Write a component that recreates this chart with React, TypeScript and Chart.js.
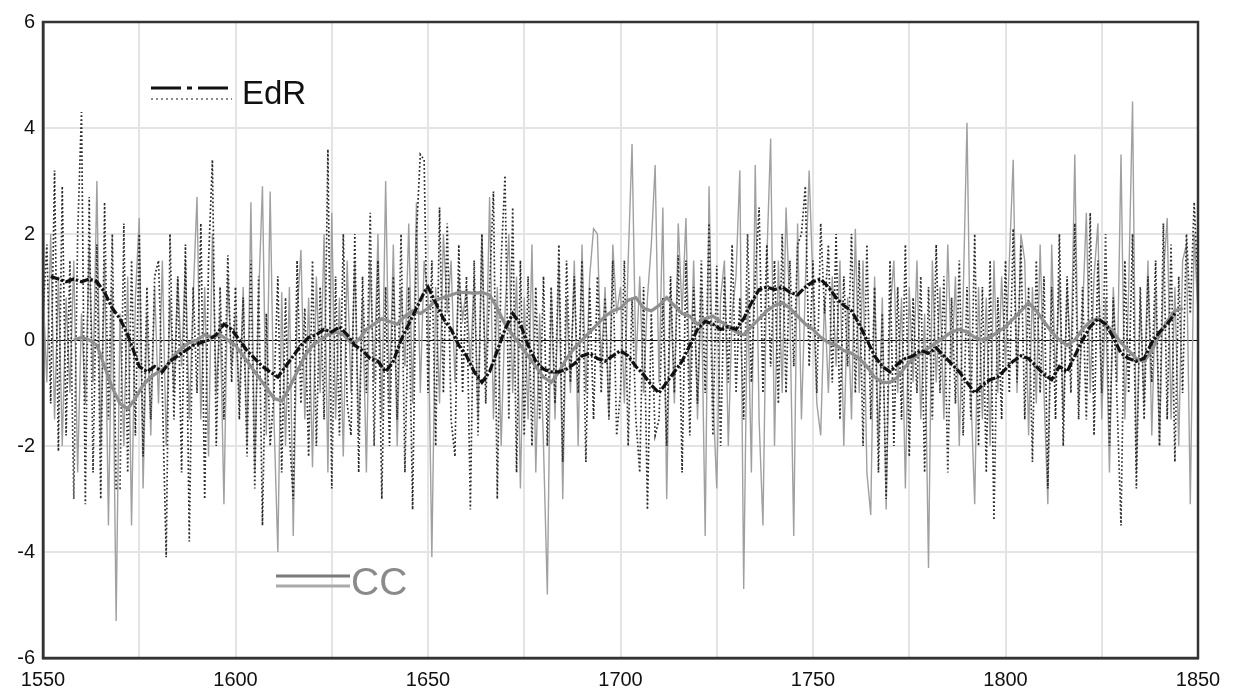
import React, { useEffect, useRef } from "react";
import { Chart, registerables } from "chart.js";

Chart.register(...registerables);

const startYear = 1550;
const endYear = 1850;

// EdR annual values 1550..1850
const edrAnnual: number[] = [
  0.5, 1.8, -1.2, 3.2, -2.1, 2.9, -1.8, 1.5, -3.0, 2.0,
  4.3, -3.1, 2.7, -2.5, 1.8, -3.0, 2.6, -1.5, 2.0, -2.8,
  -2.8, 2.2, -2.5, 1.5, -1.8, 2.0, -2.2, 1.0, -1.5, 1.2,
  1.5, -1.0, -4.1, 2.0, -1.5, 1.2, -2.5, 1.8, -3.8, 1.0,
  -1.0, 2.2, -3.0, 1.5, 3.4, -2.0, 1.0, -1.5, 1.6, -0.8,
  1.0, -1.5, 0.8, -2.2, 1.5, -2.8, 1.2, -3.5, 0.5, -2.0,
  -1.0, 1.2, -2.5, 0.8, -1.8, -3.0, 1.5, -1.2, 0.6, -2.2,
  1.5, -2.0, 1.0, -1.5, 3.6, -2.8, 1.2, -1.8, 2.0, -1.2,
  -1.8, 2.0, -2.5, 1.2, -1.0, 2.4, -2.0, 1.5, -3.0, 1.0,
  -2.0, 1.2, -1.5, 2.0, -2.5, 1.0, -3.2, 2.0, 3.5, 3.4,
  -1.0, 1.5, -2.0, 2.5, -1.0, 2.2, -1.5, -2.2, 1.8, -1.0,
  1.2, -3.2, 1.5, -1.8, 2.0, -1.2, 1.0, 2.8, -3.0, 1.5,
  3.1, -1.5, 2.5, -2.5, 1.5, -1.8, 1.2, -2.0, 1.0, -1.5,
  1.2, -2.0, 1.0, -1.2, 1.8, -2.3, 1.5, -0.8, 1.2, -1.0,
  1.5, -2.3, 1.0, -1.5, 1.2, -1.0, 0.8, -1.5, 1.5, -1.8,
  -1.0, 1.5, -2.0, 0.8, -1.5, -2.5, 1.0, -3.2, 0.5, -1.8,
  -1.5, 0.8, -2.0, 1.2, -1.0, 1.6, -2.5, 1.5, -1.8, 1.0,
  -1.2, 1.5, -1.0, 2.2, -1.8, 1.4, -2.0, 1.2, -0.8, 1.8,
  -1.0, 0.8, -1.5, 2.0, -0.8, 1.2, 2.5, -1.0, 1.8, -0.5,
  1.5, -1.2, 2.0, -1.0, 1.5, -0.5, 1.8, 2.0, 2.9, -0.5,
  1.5, -1.0, 2.2, 0.5, 1.8, -0.8, 2.0, -1.5, 1.2, -0.5,
  2.0, -1.0, 1.5, -2.0, 1.8, -1.5, 1.0, -2.5, 0.5, -3.0,
  1.5, -2.0, 1.0, -1.5, 1.8, -2.2, 0.8, -1.0, 1.2, -2.5,
  1.0, -1.5, 1.8, -1.0, 1.2, -2.5, 0.8, -1.2, 1.5, -1.8,
  1.0, -1.5, 2.0, -2.0, 1.0, -2.5, 1.5, -3.4, 0.8, -1.5,
  1.5, -1.0, 2.1, -0.8, 1.8, -1.5, 1.0, -2.3, 1.5, -1.0,
  1.2, -2.8, 1.0, -1.5, 2.0, -2.0, 1.2, -1.0, 2.2, -1.5,
  1.0, -1.5, 2.4, -1.8, 1.5, -1.0, 2.0, -2.0, 0.8, -1.2,
  -3.5, 1.5, -1.0, 2.0, -2.8, 1.0, -1.5, 1.2, -0.8, 1.5,
  -2.0, 2.2, -1.5, 1.8, -2.3, 1.2, -1.0, 2.0, 0.5, 2.6,
  1.0,
];

// CC annual values 1550..1850
const ccAnnual: number[] = [
  1.0, -0.8, 2.0, -1.5, 1.2, -2.0, 0.8, -1.0, 1.5, -2.5,
  0.5, -1.2, 1.8, -0.8, 3.0, -2.0, 1.5, -3.5, 1.0, -5.3,
  0.5, -2.0, 1.2, -3.5, 0.8, 2.3, -2.8, 0.5, -1.8, 1.0,
  -1.2, 1.5, -2.0, 0.8, -1.0, 1.2, -0.5, 1.5, -1.5, 0.8,
  2.7, -1.5, 1.0, -2.2, 2.0, -1.0, 0.5, -3.1, 1.2, -0.5,
  0.5, -1.2, 1.0, -2.0, 2.6, -2.5, 0.8, 2.9, -1.8, 2.8,
  -1.5, -4.0, 0.9, -2.0, 1.0, -3.7, 0.5, 1.7, -1.5, 0.8,
  -2.4, 1.2, -1.0, 2.0, -2.5, 2.4, -1.5, 0.8, -2.2, 1.5,
  -1.0, 1.5, -1.8, 0.8, -2.5, 1.5, -0.8, 2.0, -1.5, 3.0,
  -1.2, 1.8, -2.0, 1.0, -0.5, 2.2, -1.2, 2.6, -1.0, 1.5,
  0.8, -4.1, 1.0, -1.2, 2.0, 0.5, 1.5, -0.8, 1.2, 0.4,
  1.0, -0.5, 1.2, -1.5, 2.0, -0.8, 2.7, -1.5, 1.0, -2.0,
  0.5, 2.0, -1.0, 1.2, -2.8, 0.8, -1.5, 1.8, -2.5, 0.5,
  -2.0, -4.8, 1.0, -1.5, 1.5, -3.0, 0.8, -1.0, 1.5, -2.0,
  1.8, -1.0, 1.2, 2.1, 2.0, -0.5, 1.0, -1.5, 1.8, 0.5,
  1.0, -1.2, 1.5, 3.7, -0.5, 1.2, -1.0, 0.8, 1.8, 3.3,
  -0.8, 2.5, -3.0, 1.0, -1.2, 2.2, 0.5, 2.3, -1.0, 1.5,
  -1.5, 1.0, -3.7, 2.9, -1.0, -2.8, 0.8, 1.5, -2.0, 0.5,
  1.2, 3.2, -4.7, 1.0, -2.5, 3.3, -1.5, -3.5, 1.5, 3.8,
  -2.0, 1.5, -1.0, 2.5, 0.5, -3.7, 2.2, -1.5, 1.0, 3.2,
  1.0, -1.2, -1.8, 0.8, -1.0, 1.2, -0.5, 1.5, -2.0, 0.8,
  -1.5, 2.1, -1.0, 1.5, -2.5, -3.3, 1.2, -2.0, 0.8, -3.2,
  0.5, 1.5, -1.0, 0.8, -2.8, 1.0, -0.8, 1.5, -1.5, 0.5,
  -4.3, 1.5, -0.8, 1.0, -1.5, 1.8, -0.5, 1.2, -2.0, 0.8,
  4.1, -1.0, -3.1, 1.0, -1.5, 0.8, -2.0, 1.5, -1.0, 1.2,
  -0.5, 1.5, 3.4, -1.0, 2.0, 1.5, -1.8, 1.0, -1.2, 1.8,
  -1.0, -3.1, 1.8, -0.8, 1.2, -1.5, 1.0, -0.5, 3.5, -1.2,
  0.5, 2.4, -1.0, 1.2, 2.2, -1.5, 0.8, -2.5, 1.0, -0.8,
  3.5, -1.5, 1.0, 4.5, -2.5, 0.8, -1.2, 1.5, -1.8, 1.0,
  -2.0, 1.2, 2.3, -1.5, 1.0, -2.0, 1.5, 1.8, -3.1, 2.0,
  0.5,
];

// Smoothed EdR
const edrSmoothYears: number[] = [
  1552, 1554, 1556, 1558, 1560, 1562, 1564, 1566, 1568, 1570, 1572, 1574, 1575, 1577, 1579,
  1581, 1583, 1585, 1587, 1589, 1591, 1593, 1595, 1597, 1599, 1601, 1603, 1605, 1607, 1609,
  1611, 1613, 1615, 1617, 1619, 1621, 1623, 1625, 1627, 1629, 1631, 1633, 1635, 1637, 1639,
  1641, 1643, 1645, 1647, 1649, 1650, 1652, 1654, 1656, 1658, 1660, 1662, 1664, 1666, 1668,
  1670, 1672, 1674, 1676, 1678, 1680, 1682, 1684, 1686, 1688, 1690, 1692, 1694, 1696, 1698,
  1700, 1702, 1704, 1706, 1708, 1710, 1712, 1714, 1716, 1718, 1720, 1722, 1724, 1726, 1728,
  1730, 1732, 1734, 1736, 1738, 1740, 1742, 1744, 1746, 1748, 1750, 1752, 1754, 1756, 1758,
  1760, 1762, 1764, 1766, 1768, 1770, 1772, 1774, 1776, 1778, 1780, 1782, 1784, 1786, 1788,
  1790, 1792, 1794, 1796, 1798, 1800, 1802, 1804, 1806, 1808, 1810, 1812, 1814, 1816, 1818,
  1820, 1822, 1824, 1826, 1828, 1830, 1832, 1834, 1836, 1838, 1840, 1842, 1844,
];
const edrSmoothValues: number[] = [
  1.2, 1.15, 1.1, 1.15, 1.1, 1.15, 1.1, 0.9, 0.6, 0.4, 0.1, -0.3, -0.5, -0.6, -0.5,
  -0.6, -0.4, -0.3, -0.2, -0.1, -0.05, 0.0, 0.1, 0.3, 0.2, 0.0, -0.2, -0.35, -0.5, -0.6,
  -0.7, -0.5, -0.3, -0.1, 0.05, 0.1, 0.2, 0.15, 0.25, 0.1, -0.1, -0.2, -0.35, -0.4, -0.6,
  -0.4, 0.0, 0.3, 0.6, 0.9, 1.0, 0.7, 0.4, 0.2, -0.1, -0.3, -0.6, -0.8, -0.6, -0.2,
  0.2, 0.5, 0.3, -0.1, -0.4, -0.55, -0.6, -0.6, -0.55, -0.45, -0.3, -0.25, -0.35, -0.4, -0.3,
  -0.2, -0.3, -0.5, -0.65, -0.85, -1.0, -0.8, -0.6, -0.4, -0.1, 0.2, 0.35, 0.3, 0.2, 0.25,
  0.2, 0.4, 0.7, 0.95, 1.0, 0.95, 1.0, 0.9, 0.85, 1.0, 1.1, 1.15, 1.0, 0.8, 0.65,
  0.55, 0.3, 0.0, -0.3, -0.5, -0.6, -0.45, -0.35, -0.3, -0.2, -0.25, -0.15, -0.3, -0.45, -0.6,
  -0.8, -1.0, -0.85, -0.75, -0.7, -0.55, -0.4, -0.3, -0.35, -0.5, -0.65, -0.75, -0.5, -0.6, -0.3,
  0.0, 0.25, 0.4, 0.3, 0.05, -0.25, -0.35, -0.4, -0.35, -0.05, 0.15, 0.3, 0.5,
];

// Smoothed CC
const ccSmoothYears: number[] = [
  1558, 1560, 1562, 1564, 1566, 1568, 1570, 1572, 1574, 1576, 1578, 1580, 1582, 1584, 1586,
  1588, 1590, 1592, 1594, 1596, 1598, 1600, 1602, 1604, 1606, 1608, 1610, 1612, 1614, 1616,
  1618, 1620, 1622, 1624, 1626, 1628, 1630, 1632, 1634, 1636, 1638, 1640, 1642, 1644, 1646,
  1648, 1650, 1652, 1654, 1656, 1658, 1660, 1662, 1664, 1666, 1668, 1670, 1672, 1674, 1676,
  1678, 1680, 1682, 1684, 1686, 1688, 1690, 1692, 1694, 1696, 1698, 1700, 1702, 1704, 1706,
  1708, 1710, 1712, 1714, 1716, 1718, 1720, 1722, 1724, 1726, 1728, 1730, 1732, 1734, 1736,
  1738, 1740, 1742, 1744, 1746, 1748, 1750, 1752, 1754, 1756, 1758, 1760, 1762, 1764, 1766,
  1768, 1770, 1772, 1774, 1776, 1778, 1780, 1782, 1784, 1786, 1788, 1790, 1792, 1794, 1796,
  1798, 1800, 1802, 1804, 1806, 1808, 1810, 1812, 1814, 1816, 1818, 1820, 1822, 1824, 1826,
  1828, 1830, 1832, 1834, 1836, 1838, 1840, 1842, 1844, 1846,
];
const ccSmoothValues: number[] = [
  0.0, 0.05, 0.0, -0.1, -0.5, -0.9, -1.2, -1.3, -1.1, -0.85, -0.7, -0.6, -0.5, -0.3, -0.15,
  -0.05, 0.0, 0.1, 0.05, 0.1, 0.0, -0.1, -0.3, -0.5, -0.7, -0.9, -1.1, -1.15, -0.9, -0.6,
  -0.3, -0.1, 0.0, 0.1, 0.15, 0.1, -0.05, 0.0, 0.2, 0.3, 0.4, 0.35, 0.3, 0.45, 0.55,
  0.5, 0.6, 0.75, 0.8, 0.85, 0.9, 0.9, 0.88, 0.9, 0.85, 0.6, 0.3, 0.1, -0.1, -0.3,
  -0.5, -0.7, -0.8, -0.6, -0.35, -0.15, 0.0, 0.15, 0.3, 0.45, 0.55, 0.6, 0.75, 0.8, 0.6,
  0.55, 0.65, 0.8, 0.65, 0.5, 0.45, 0.3, 0.4, 0.45, 0.35, 0.25, 0.15, 0.1, 0.25, 0.4,
  0.55, 0.65, 0.7, 0.6, 0.45, 0.3, 0.2, 0.05, -0.05, -0.1, -0.2, -0.25, -0.35, -0.5, -0.7,
  -0.8, -0.8, -0.7, -0.5, -0.35, -0.25, -0.15, -0.05, 0.05, 0.15, 0.2, 0.15, 0.05, 0.0, 0.05,
  0.15, 0.25, 0.4, 0.55, 0.7, 0.55, 0.35, 0.15, 0.0, -0.1, 0.0, 0.2, 0.35, 0.4, 0.3,
  0.15, -0.05, -0.2, -0.35, -0.4, -0.2, 0.1, 0.35, 0.55, 0.6,
];

const yTicks: number[] = [-6, -4, -2, 0, 2, 4, 6];
const xLabelTicks: number[] = [1550, 1600, 1650, 1700, 1750, 1800, 1850];

const FONT = "'Liberation Sans', Arial, sans-serif";

const toPoints = (xs: number[], ys: number[]) => xs.map((x, i) => ({ x, y: ys[i] }));
const annualPoints = (vals: number[]) => vals.map((v, i) => ({ x: startYear + i, y: v }));

const legendPlugin = {
  id: "customLegend",
  afterDraw(chart: any) {
    const ctx = chart.ctx as CanvasRenderingContext2D;
    ctx.save();
    // EdR smoothed sample (dash-dot black)
    ctx.strokeStyle = "#111";
    ctx.lineWidth = 3;
    ctx.setLineDash([30, 6, 5, 6]);
    ctx.beginPath();
    ctx.moveTo(151, 88);
    ctx.lineTo(232, 88);
    ctx.stroke();
    // EdR annual sample (dotted)
    ctx.strokeStyle = "#666";
    ctx.lineWidth = 1.6;
    ctx.setLineDash([2, 3]);
    ctx.beginPath();
    ctx.moveTo(151, 99);
    ctx.lineTo(232, 99);
    ctx.stroke();
    ctx.setLineDash([]);
    ctx.fillStyle = "#111";
    ctx.font = `33px ${FONT}`;
    ctx.textAlign = "left";
    ctx.textBaseline = "middle";
    ctx.fillText("EdR", 242, 95);
    // CC samples
    ctx.strokeStyle = "#7a7a7a";
    ctx.lineWidth = 3;
    ctx.beginPath();
    ctx.moveTo(276, 576);
    ctx.lineTo(350, 576);
    ctx.stroke();
    ctx.strokeStyle = "#aaa";
    ctx.lineWidth = 3;
    ctx.beginPath();
    ctx.moveTo(276, 586);
    ctx.lineTo(350, 586);
    ctx.stroke();
    ctx.fillStyle = "#8a8a8a";
    ctx.font = `39px ${FONT}`;
    ctx.fillText("CC", 351, 584);
    ctx.restore();
  },
};

export default function App() {
  const canvasRef = useRef<HTMLCanvasElement | null>(null);

  useEffect(() => {
    document.body.style.margin = "0";
    const canvas = canvasRef.current;
    if (!canvas) return;
    const chart = new Chart(canvas, {
      type: "line",
      data: {
        datasets: [
          {
            label: "EdR smoothed",
            data: toPoints(edrSmoothYears, edrSmoothValues),
            borderColor: "#111",
            borderWidth: 3.2,
            borderDash: [9, 2, 2.5, 2],
            pointRadius: 0,
            tension: 0,
            order: 1,
          },
          {
            label: "CC smoothed",
            data: toPoints(ccSmoothYears, ccSmoothValues),
            borderColor: "#8f8f8f",
            borderWidth: 3.2,
            pointRadius: 0,
            tension: 0,
            order: 2,
          },
          {
            label: "EdR",
            data: annualPoints(edrAnnual),
            borderColor: "#2a2a2a",
            borderWidth: 1.7,
            borderDash: [1.7, 2.3],
            pointRadius: 0,
            tension: 0,
            order: 3,
          },
          {
            label: "CC",
            data: annualPoints(ccAnnual),
            borderColor: "#a0a0a0",
            borderWidth: 1.4,
            pointRadius: 0,
            tension: 0,
            order: 4,
          },
        ],
      },
      options: {
        animation: false,
        responsive: false,
        maintainAspectRatio: false,
        layout: { padding: { top: 22, right: 35, left: 0, bottom: 0 } },
        plugins: { legend: { display: false }, tooltip: { enabled: false } },
        scales: {
          x: {
            type: "linear",
            min: startYear,
            max: endYear,
            afterBuildTicks: (axis: any) => {
              const t: any[] = [];
              for (let v = startYear; v <= endYear; v += 25) t.push({ value: v });
              axis.ticks = t;
            },
            afterFit: (axis: any) => {
              axis.height = 42;
            },
            ticks: {
              autoSkip: false,
              maxRotation: 0,
              padding: 10,
              color: "#111",
              font: { family: FONT, size: 20 },
              callback: (v: any) => (xLabelTicks.includes(Number(v)) ? String(v) : ""),
            },
            grid: {
              color: "#e4e4e4",
              lineWidth: 2,
              drawTicks: false,
            },
            border: { display: true, color: "#333", width: 2.5 },
          },
          y: {
            min: -6,
            max: 6,
            afterBuildTicks: (axis: any) => {
              axis.ticks = yTicks.map((v) => ({ value: v }));
            },
            afterFit: (axis: any) => {
              axis.width = 43;
            },
            ticks: {
              padding: 8,
              color: "#111",
              font: { family: FONT, size: 20 },
            },
            grid: {
              color: (c: any) => (c.tick && c.tick.value === 0 ? "#000" : "#e4e4e4"),
              lineWidth: (c: any) => (c.tick && c.tick.value === 0 ? 1 : 2),
              drawTicks: false,
            },
            border: { display: true, color: "#333", width: 2.5 },
          },
        },
      },
      plugins: [
        legendPlugin,
        {
          id: "frame",
          afterDraw(chart: any) {
            const { ctx, chartArea } = chart;
            ctx.save();
            ctx.strokeStyle = "#333";
            ctx.lineWidth = 2.5;
            ctx.strokeRect(chartArea.left, chartArea.top, chartArea.right - chartArea.left, chartArea.bottom - chartArea.top);
            ctx.restore();
          },
        },
      ],
    } as any);
    return () => chart.destroy();
  }, []);

  return (
    <div style={{ position: "absolute", left: 0, top: 0, width: 1233, height: 700, background: "#fff" }}>
      <canvas ref={canvasRef} width={1233} height={700} style={{ width: 1233, height: 700 }} />
    </div>
  );
}
